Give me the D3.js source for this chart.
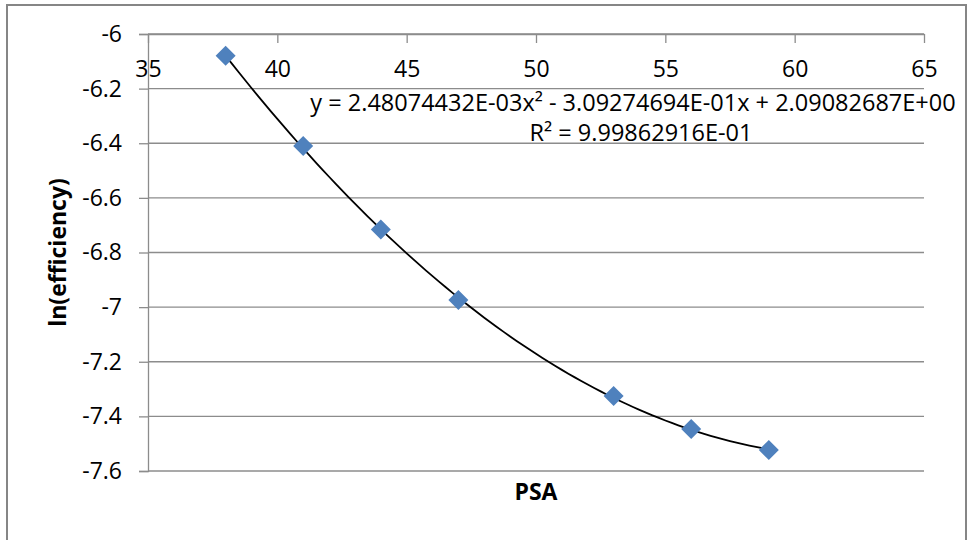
<!DOCTYPE html>
<html>
<head>
<meta charset="utf-8">
<script src="https://cdn.jsdelivr.net/npm/d3@7"></script>
<style>
  html, body { margin: 0; padding: 0; background: #fff; }
  svg { display: block; font-family: "Open Sans", sans-serif; }
</style>
</head>
<body>
<div id="chart"></div>
<script>
// PSA vs ln(efficiency), with 2nd order polynomial trendline
const psa = [38, 41, 44, 47, 53, 56, 59];
const lnEff = [-6.080, -6.410, -6.716, -6.974, -7.325, -7.446, -7.523];
const xTicks = [35, 40, 45, 50, 55, 60, 65];
const yTicks = [-6, -6.2, -6.4, -6.6, -6.8, -7, -7.2, -7.4, -7.6];
// trendline coefficients: a*x^2 + b*x + c
const trendCoef = [2.48074432e-03, -3.09274694e-01, 2.09082687e+00];
const trendLabel = ['y = 2.48074432E-03x² - 3.09274694E-01x + 2.09082687E+00', 'R² = 9.99862916E-01'];

const width = 969, height = 540;
const margin = { top: 34, right: 45, bottom: 69, left: 148 };
const plotW = width - margin.left - margin.right;
const plotH = height - margin.top - margin.bottom;

const svg = d3.select('#chart').append('svg')
  .attr('width', width)
  .attr('height', height);

// chart area border (bottom edge falls outside the picture)
svg.append('rect')
  .attr('x', 7).attr('y', 5)
  .attr('width', 959).attr('height', 560)
  .attr('fill', '#fff')
  .attr('stroke', '#868686')
  .attr('stroke-width', 2);

const x = d3.scaleLinear().domain([35, 65]).range([0, plotW]);
const y = d3.scaleLinear().domain([-7.6, -6]).range([plotH, 0]);

const g = svg.append('g')
  .attr('transform', `translate(${margin.left},${margin.top})`);

// gridlines
g.append('g')
  .selectAll('line')
  .data(yTicks)
  .join('line')
  .attr('x1', 0).attr('x2', plotW)
  .attr('y1', d => y(d)).attr('y2', d => y(d))
  .attr('stroke', '#8c8c8c')
  .attr('stroke-width', 1.3);

// y axis (left); plain hyphen for the minus like the original
const yAxis = g.append('g')
  .call(d3.axisLeft(y).tickValues(yTicks).tickSize(9).tickPadding(17).tickFormat(d => String(d)));
yAxis.select('.domain').attr('stroke', '#8c8c8c').attr('stroke-width', 1.3);
yAxis.selectAll('.tick line').attr('stroke', '#8c8c8c').attr('stroke-width', 1.3);
yAxis.selectAll('.tick text')
  .attr('font-size', 23)
  .attr('font-family', '"Open Sans", sans-serif')
  .attr('fill', '#000');

// x axis sits at the top (crosses at -6); ticks point down, labels below
const xAxis = g.append('g')
  .call(d3.axisBottom(x).tickValues(xTicks).tickSize(9).tickPadding(18).tickSizeOuter(0).tickFormat(d => String(d)));
xAxis.select('.domain').attr('stroke', '#8c8c8c').attr('stroke-width', 1.3);
xAxis.selectAll('.tick line').attr('stroke', '#8c8c8c').attr('stroke-width', 1.3);
xAxis.selectAll('.tick text')
  .attr('font-size', 23)
  .attr('font-family', '"Open Sans", sans-serif')
  .attr('fill', '#000');

// trendline over the data range
const trend = x0 => trendCoef[0] * x0 * x0 + trendCoef[1] * x0 + trendCoef[2];
const xs = d3.range(d3.min(psa), d3.max(psa) + 0.001, 0.25);
g.append('path')
  .datum(xs)
  .attr('fill', 'none')
  .attr('stroke', '#000')
  .attr('stroke-width', 1.8)
  .attr('d', d3.line().x(d => x(d)).y(d => y(trend(d))));

// diamond markers
const pts = psa.map((p, i) => ({ p, v: lnEff[i] }));
g.append('g')
  .selectAll('path')
  .data(pts)
  .join('path')
  .attr('transform', d => `translate(${x(d.p)},${y(d.v)})`)
  .attr('d', 'M0,-10L10,0L0,10L-10,0Z')
  .attr('fill', '#4F81BD');

// trendline label
const lbl = svg.append('text')
  .attr('text-anchor', 'middle')
  .attr('font-size', 23.5)
  .attr('fill', '#000');
lbl.append('tspan').attr('x', 633).attr('y', 111).text(trendLabel[0]);
lbl.append('tspan').attr('x', 641).attr('y', 141).text(trendLabel[1]);

// axis titles
svg.append('text')
  .attr('x', margin.left + plotW / 2)
  .attr('y', 500)
  .attr('text-anchor', 'middle')
  .attr('font-size', 23)
  .attr('font-weight', 'bold')
  .text('PSA');

svg.append('text')
  .attr('transform', `translate(66,${margin.top + plotH / 2}) rotate(-90)`)
  .attr('text-anchor', 'middle')
  .attr('font-size', 23)
  .attr('font-weight', 'bold')
  .text('ln(efficiency)');
</script>
</body>
</html>
